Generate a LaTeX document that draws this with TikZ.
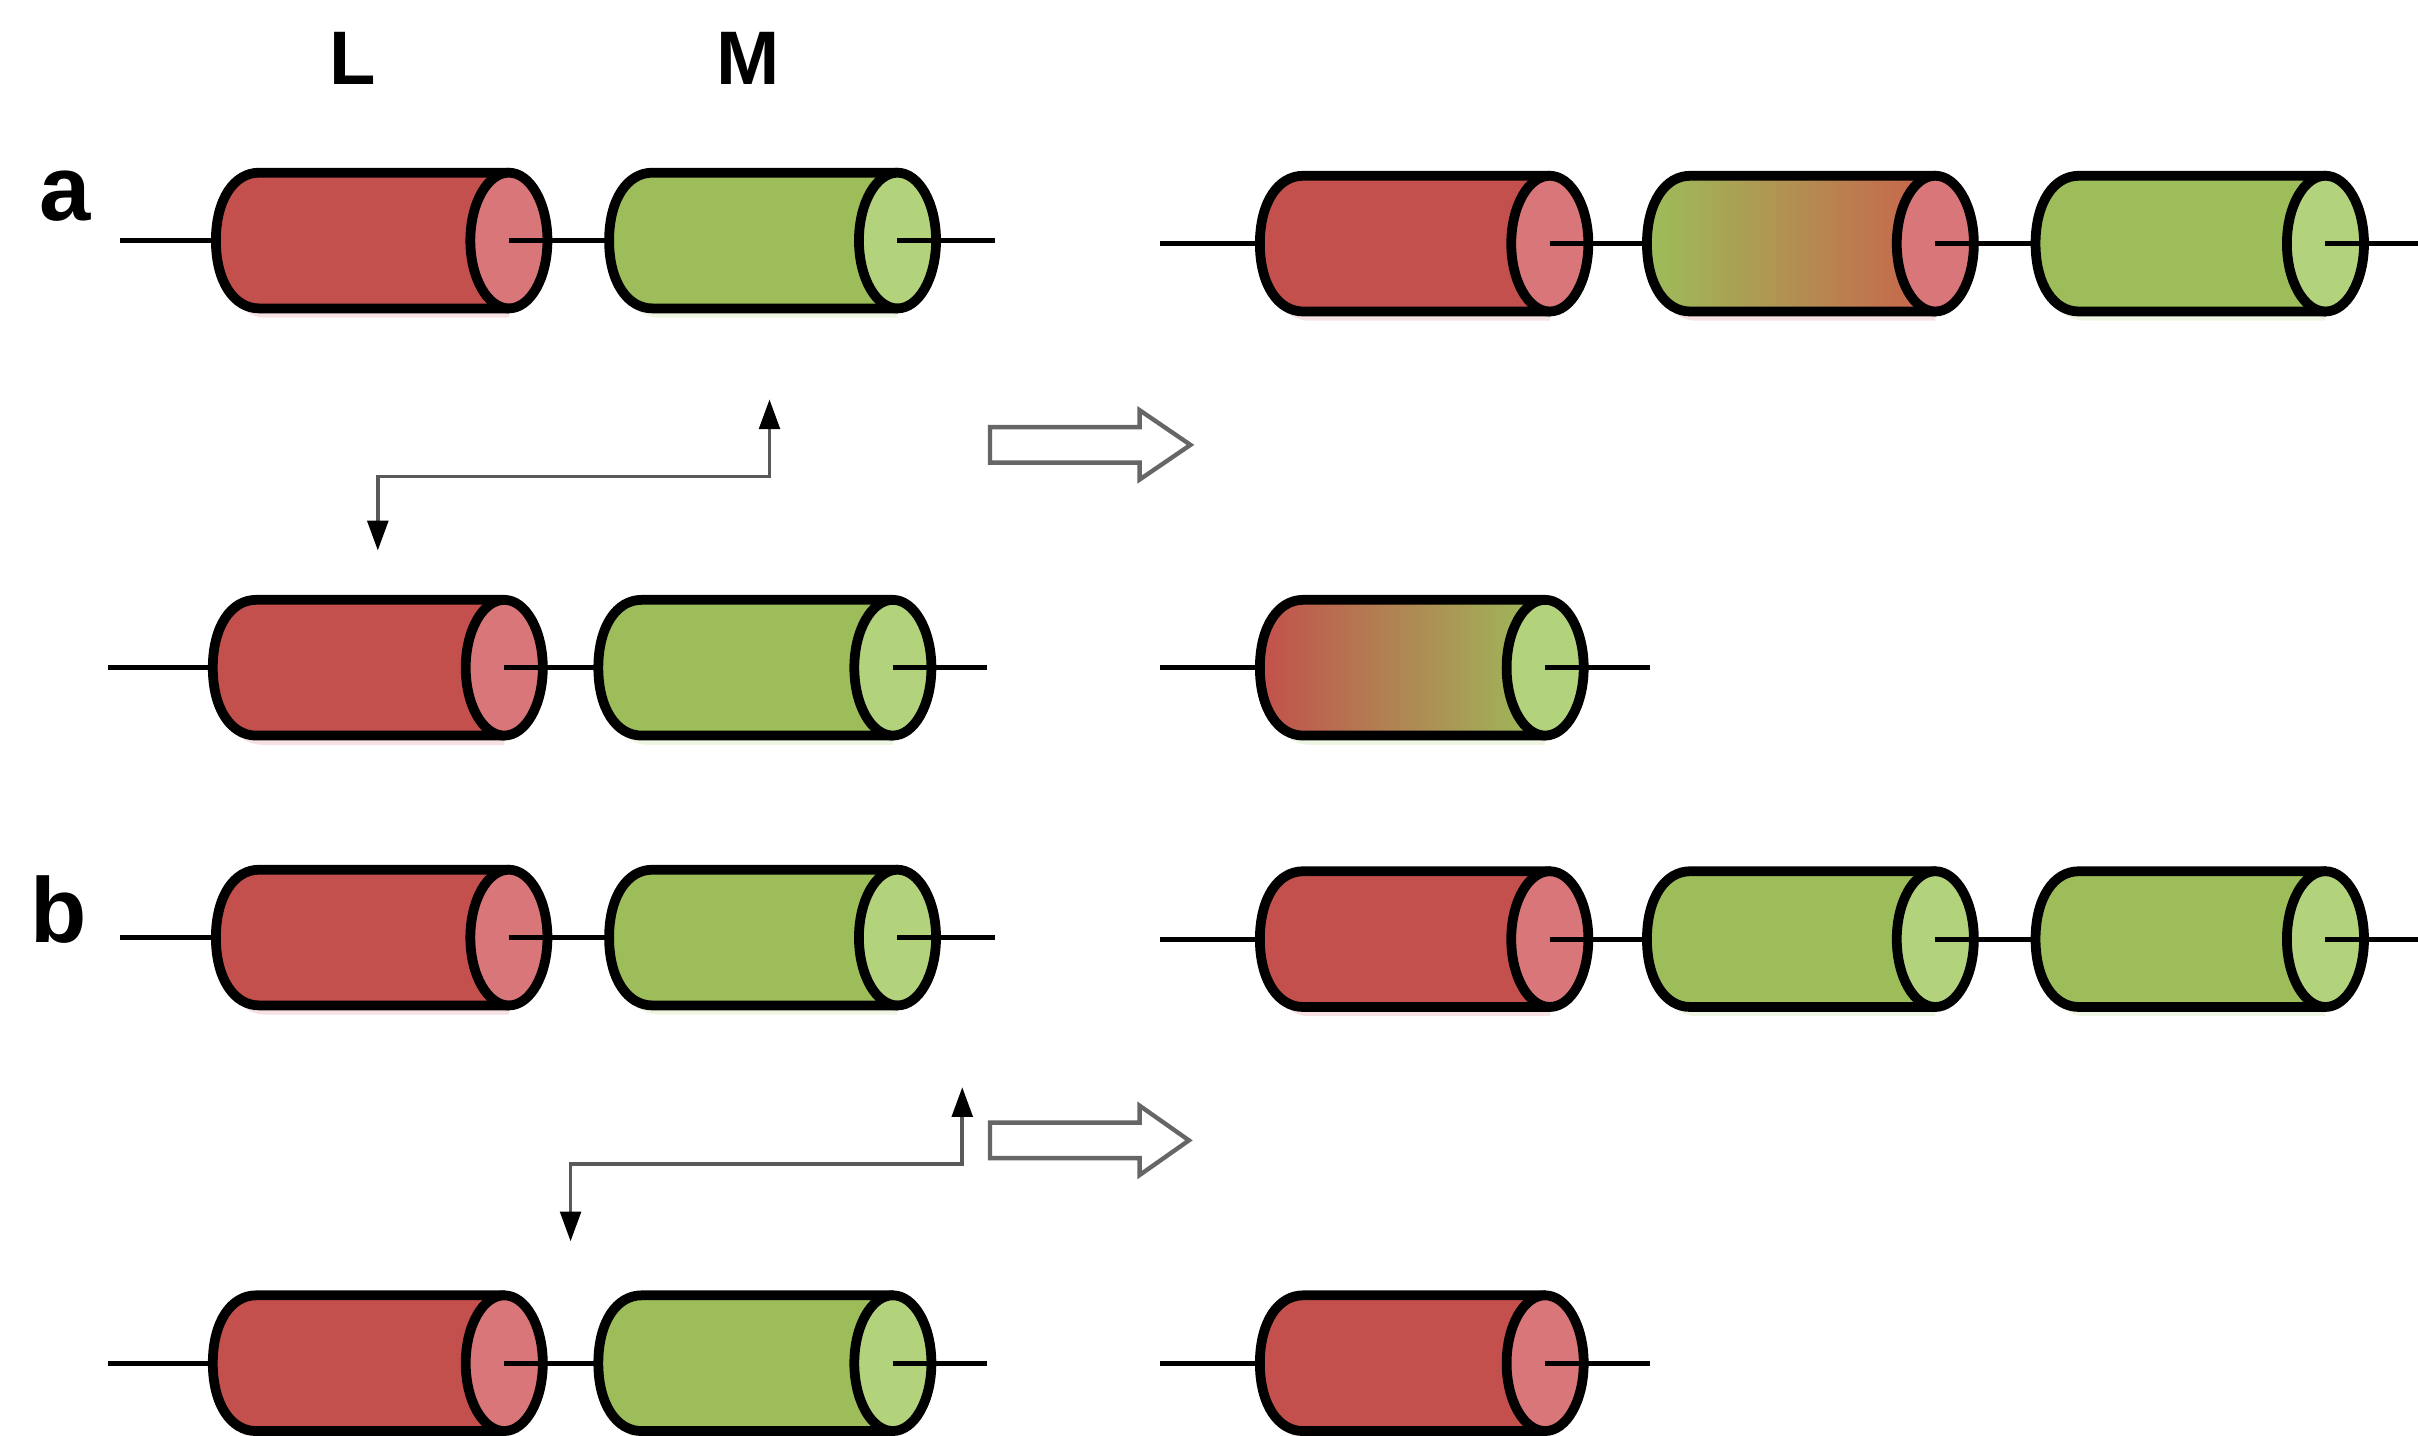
\documentclass[tikz,border=0pt]{standalone}
\usepackage{fontspec}
\setmainfont{Liberation Sans}
\usetikzlibrary{arrows.meta}
\definecolor{redbody}{HTML}{C3504C}
\definecolor{redend}{HTML}{D97679}
\definecolor{grnbody}{HTML}{9CBD59}
\definecolor{grnend}{HTML}{B3D27C}
\definecolor{orng}{HTML}{C9624B}
\tikzset{
  cylout/.style={line width=1.8pt, line join=round},
  backbone/.style={line width=0.9pt},
  xover/.style={draw=black!65, line width=0.7pt,
    {Triangle[width=3.8pt,length=5.5pt,color=black]}-{Triangle[width=3.8pt,length=5.5pt,color=black]}},
  bigarrow/.style={draw=black!60, line width=0.8pt, fill=white, line join=miter},
  lbl/.style={font=\bfseries\fontsize{14}{16}\selectfont, inner sep=0pt},
  rowlbl/.style={font=\bfseries\fontsize{17}{19}\selectfont, inner sep=0pt},
  redfill/.style={fill=redbody},
  grnfill/.style={fill=grnbody},
  gradgr/.style={left color=grnbody, middle color=grnbody!55!orng, right color=orng},
  gradrg/.style={left color=redbody, middle color=redbody!50!grnbody, right color=grnbody},
}
% body outline of a cylinder: #1 x0, #2 x1 (body end, ellipse centre), #3 y
\newcommand\gbody[3]{%
  (#2,#3+44) -- (#1+28,#3+44) .. controls (#1+12,#3+44) and (#1,#3+27) .. (#1,#3)
  .. controls (#1,#3-27) and (#1+12,#3-44) .. (#1+28,#3-44) -- (#2,#3-44) -- cycle}
% #1 name, #2 x0, #3 x1, #4 y, #5 body style, #6 end colour
\newcommand\gcyl[6]{%
  \pgfmathsetmacro\gcb{#3-25}%
  \pgfmathsetmacro\gsx{#2+4}%
  \pgfmathsetmacro\gsy{#4+6}%
  \fill[#6, opacity=0.22] \gbody{\gsx}{\gcb}{\gsy};
  \path[#5] \gbody{#2}{\gcb}{#4};
  \draw[cylout] \gbody{#2}{\gcb}{#4};
  \filldraw[cylout, fill=#6] (\gcb,#4) ellipse[x radius=25, y radius=44];
  \coordinate (#1-w) at (#2,#4);
  \coordinate (#1-c) at (\gcb,#4);
}
\begin{document}
\begin{tikzpicture}[x=0.01cm, y=-0.01cm]
\useasboundingbox (0,0) rectangle (1568,931);

% labels
\node[lbl] (Llbl) at (229,38) {L};
\node[lbl] (Mlbl) at (485,38) {M};
\node[rowlbl] (alab) at (42,127) {a};
\node[rowlbl] (blab) at (38,590) {b};

% ---------- row a, top left
\gcyl{a1L}{140}{355}{156}{redfill}{redend}
\gcyl{a1M}{395}{607}{156}{grnfill}{grnend}
\coordinate (a1s) at (78,156); \coordinate (a1e) at (645,156);
\draw[backbone] (a1s) -- (a1L-w); \draw[backbone] (a1L-c) -- (a1M-w); \draw[backbone] (a1M-c) -- (a1e);

% row a, top right
\gcyl{a1R1}{817}{1030}{158}{redfill}{redend}
\gcyl{a1R2}{1068}{1280}{158}{gradgr}{redend}
\gcyl{a1R3}{1320}{1533}{158}{grnfill}{grnend}
\coordinate (a1rs) at (752,158); \coordinate (a1re) at (1568,158);
\draw[backbone] (a1rs) -- (a1R1-w); \draw[backbone] (a1R1-c) -- (a1R2-w);
\draw[backbone] (a1R2-c) -- (a1R3-w); \draw[backbone] (a1R3-c) -- (a1re);

% row a, bottom left
\gcyl{a2L}{138}{352}{433}{redfill}{redend}
\gcyl{a2M}{388}{604}{433}{grnfill}{grnend}
\coordinate (a2s) at (70,433); \coordinate (a2e) at (640,433);
\draw[backbone] (a2s) -- (a2L-w); \draw[backbone] (a2L-c) -- (a2M-w); \draw[backbone] (a2M-c) -- (a2e);

% row a, bottom right
\gcyl{a2R1}{817}{1027}{433}{gradrg}{grnend}
\coordinate (a2rs) at (752,433); \coordinate (a2re) at (1070,433);
\draw[backbone] (a2rs) -- (a2R1-w); \draw[backbone] (a2R1-c) -- (a2re);

% crossover a and hollow arrow
\coordinate (xa1) at (245,357); \coordinate (xa2) at (499,259);
\draw[xover] (xa1) -- ++(0,-48) -| (xa2);
\draw[bigarrow] (642,277) -- (739,277) -- (739,266) -- (772,288.5) -- (739,311) -- (739,300) -- (642,300) -- cycle;

% ---------- row b, top left
\gcyl{b1L}{140}{355}{608}{redfill}{redend}
\gcyl{b1M}{395}{607}{608}{grnfill}{grnend}
\coordinate (b1s) at (78,608); \coordinate (b1e) at (645,608);
\draw[backbone] (b1s) -- (b1L-w); \draw[backbone] (b1L-c) -- (b1M-w); \draw[backbone] (b1M-c) -- (b1e);

% row b, top right
\gcyl{b1R1}{817}{1030}{609}{redfill}{redend}
\gcyl{b1R2}{1068}{1280}{609}{grnfill}{grnend}
\gcyl{b1R3}{1320}{1533}{609}{grnfill}{grnend}
\coordinate (b1rs) at (752,609); \coordinate (b1re) at (1568,609);
\draw[backbone] (b1rs) -- (b1R1-w); \draw[backbone] (b1R1-c) -- (b1R2-w);
\draw[backbone] (b1R2-c) -- (b1R3-w); \draw[backbone] (b1R3-c) -- (b1re);

% row b, bottom left
\gcyl{b2L}{138}{352}{884}{redfill}{redend}
\gcyl{b2M}{388}{604}{884}{grnfill}{grnend}
\coordinate (b2s) at (70,884); \coordinate (b2e) at (640,884);
\draw[backbone] (b2s) -- (b2L-w); \draw[backbone] (b2L-c) -- (b2M-w); \draw[backbone] (b2M-c) -- (b2e);

% row b, bottom right
\gcyl{b2R1}{817}{1027}{884}{redfill}{redend}
\coordinate (b2rs) at (752,884); \coordinate (b2re) at (1070,884);
\draw[backbone] (b2rs) -- (b2R1-w); \draw[backbone] (b2R1-c) -- (b2re);

% crossover b and hollow arrow
\coordinate (xb1) at (370,805); \coordinate (xb2) at (624,705);
\draw[xover] (xb1) -- ++(0,-50) -| (xb2);
\draw[bigarrow] (642,728) -- (739,728) -- (739,717) -- (771,739.5) -- (739,762) -- (739,751) -- (642,751) -- cycle;
\end{tikzpicture}
\end{document}
